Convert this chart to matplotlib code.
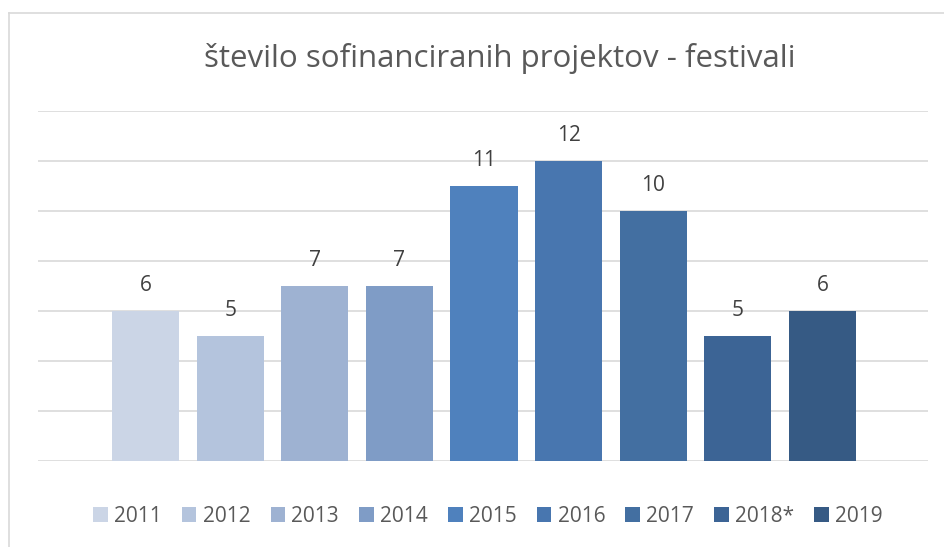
import matplotlib
matplotlib.use("Agg")
import matplotlib.pyplot as plt
from matplotlib.lines import Line2D
from matplotlib.patches import Patch

years = ["2011", "2012", "2013", "2014", "2015", "2016", "2017", "2018*", "2019"]
values = [6, 5, 7, 7, 11, 12, 10, 5, 6]
colors = ["#CBD5E6", "#B4C4DD", "#9EB2D2", "#7F9CC6", "#4F81BD",
          "#4876AF", "#436FA1", "#3C6495", "#365A84"]
title = "število sofinanciranih projektov - festivali"

plt.rcParams['font.family'] = ['Open Sans', 'DejaVu Sans']

W, H = 944, 547
fig = plt.figure(figsize=(W / 100, H / 100), dpi=100)
fig.patch.set_facecolor("white")

# axes area in pixels: x 38..928, y 111..461
x0, x1, y0, y1 = 38, 928, 111, 461
ax = fig.add_axes([x0 / W, 1 - y1 / H, (x1 - x0) / W, (y1 - y0) / H])

pos = list(range(len(values)))
step = 84.6
ax.bar(pos, values, width=67 / step, color=colors, zorder=3)
ax.set_xlim(-(145.5 - x0) / step, 8 + (x1 - 822.5) / step)
ax.set_ylim(0, 14)
ax.set_yticks(range(0, 15, 2))
ax.grid(axis="y", color="#D9D9D9", linewidth=1.2, zorder=0)
ax.tick_params(left=False, bottom=False, labelleft=False, labelbottom=False)
for s in ax.spines.values():
    s.set_visible(False)

for p, v in zip(pos, values):
    ax.annotate(str(v), (p, v), xytext=(0, 11), textcoords="offset points",
                ha="center", va="bottom", fontsize=15, color="#404040")

fig.text(500 / W, 1 - 58 / H, title, ha="center", va="center",
         fontsize=22.5, color="#595959")

handles = [Patch(facecolor=c, edgecolor="none") for c in colors]
fig.legend(handles, years, loc="center", bbox_to_anchor=(488 / W, 1 - 516 / H),
           ncol=len(years), frameon=False, fontsize=15,
           handlelength=0.7, handleheight=0.7, handletextpad=0.3,
           columnspacing=0.97, labelcolor="#595959")

# chart border (left and top edges visible)
fig.add_artist(Line2D([9 / W, 9 / W], [0, 1 - 12.5 / H], transform=fig.transFigure,
                      color="#D9D9D9", linewidth=1.2))
fig.add_artist(Line2D([9 / W, 1], [1 - 12.5 / H, 1 - 12.5 / H], transform=fig.transFigure,
                      color="#D9D9D9", linewidth=1.2))

fig.savefig("out.png", dpi=100)
